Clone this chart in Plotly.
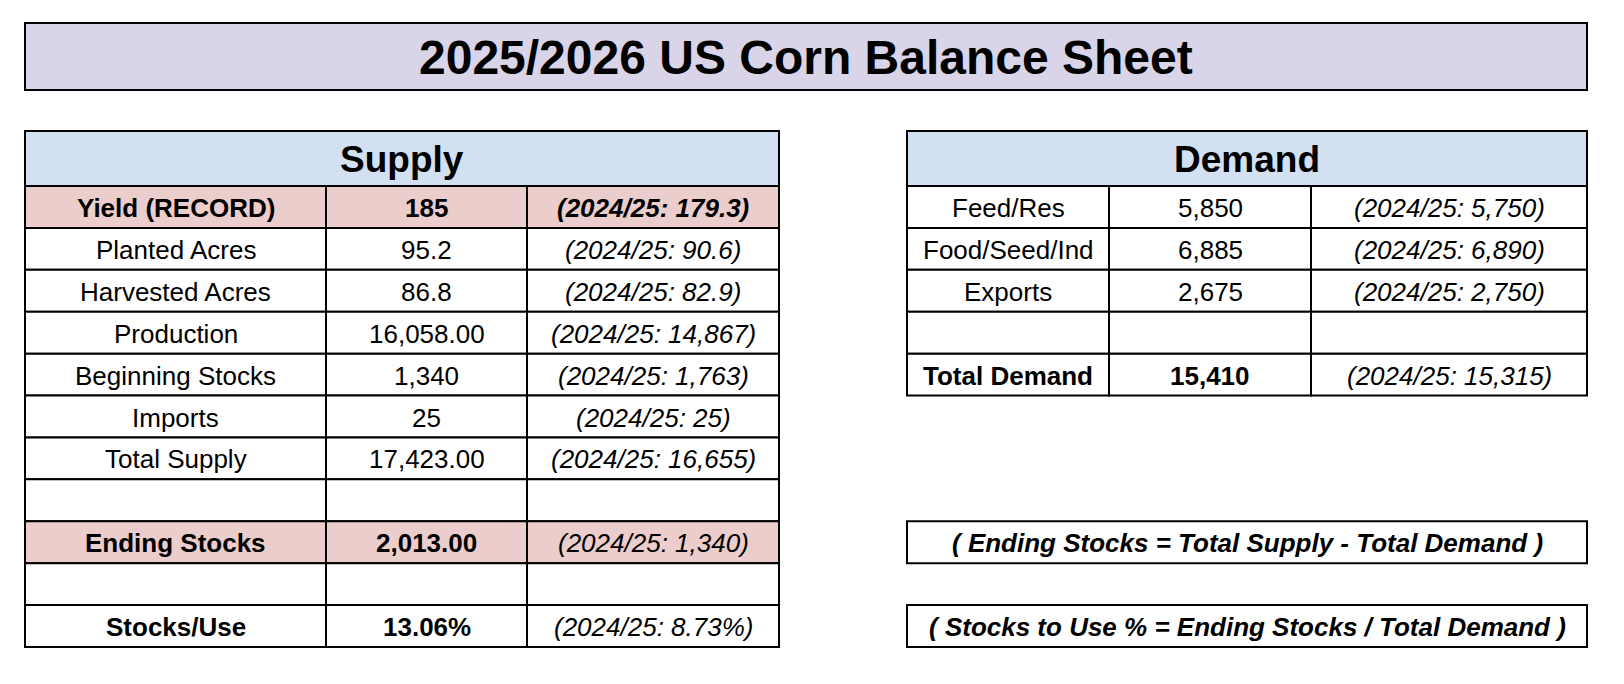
import plotly.graph_objects as go

# ---------------- data ----------------
title_text = "2025/2026 US Corn Balance Sheet"

supply_header = "Supply"
supply_labels = ["Yield (RECORD)", "Planted Acres", "Harvested Acres", "Production",
                 "Beginning Stocks", "Imports", "Total Supply", "", "Ending Stocks", "",
                 "Stocks/Use"]
supply_values = ["185", "95.2", "86.8", "16,058.00", "1,340", "25", "17,423.00", "",
                 "2,013.00", "", "13.06%"]
supply_prev = ["(2024/25: 179.3)", "(2024/25: 90.6)", "(2024/25: 82.9)",
               "(2024/25: 14,867)", "(2024/25: 1,763)", "(2024/25: 25)",
               "(2024/25: 16,655)", "", "(2024/25: 1,340)", "", "(2024/25: 8.73%)"]
supply_highlight = [True, False, False, False, False, False, False, False, True, False, False]
supply_bold = [True, False, False, False, False, False, False, False, True, False, True]
supply_prev_bold = [True] + [False] * 10

demand_header = "Demand"
demand_labels = ["Feed/Res", "Food/Seed/Ind", "Exports", "", "Total Demand"]
demand_values = ["5,850", "6,885", "2,675", "", "15,410"]
demand_prev = ["(2024/25: 5,750)", "(2024/25: 6,890)", "(2024/25: 2,750)", "",
               "(2024/25: 15,315)"]
demand_bold = [False, False, False, False, True]

formulas = ["( Ending Stocks = Total Supply - Total Demand )",
            "( Stocks to Use % = Ending Stocks / Total Demand )"]

# ---------------- layout constants ----------------
W, H = 1624, 684
PAGE_OFF = 8  # default page margin around the plot div
FONT = "Liberation Sans, Arial, sans-serif"
TITLE_FILL = "#d9d4e8"
HEAD_FILL = "#d2e0f1"
PINK_FILL = "#ebcdcc"
LINE_W = 2
BODY_SIZE = 26

title_box = (25, 1587, 23, 90)
table_top = 131
head_bottom = 186
row_h = (647 - head_bottom) / 11.0
supply_cols = [25, 326, 527, 779]
demand_cols = [907, 1109, 1311, 1587]

shapes = []
annotations = []


def rect(x0, x1, y0, y1, fill="white"):
    shapes.append(dict(type="rect", xref="x", yref="y", x0=x0, x1=x1, y0=y0, y1=y1,
                       fillcolor=fill, line=dict(color="black", width=LINE_W),
                       layer="below"))


def text(x, y, s, size, bold=False, italic=False):
    if not s:
        return
    annotations.append(dict(x=x, y=y, xref="x", yref="y", text=s, showarrow=False,
                            xanchor="center", yanchor="middle",
                            font=dict(family=FONT, size=size, color="black",
                                      weight="bold" if bold else "normal",
                                      style="italic" if italic else "normal")))


# title
rect(title_box[0], title_box[1], title_box[2], title_box[3], TITLE_FILL)
text((title_box[0] + title_box[1]) / 2, (title_box[2] + title_box[3]) / 2 + 1,
     title_text, 48, bold=True)


def draw_table(cols, header, labels, values, prev, bold, highlight=None, prev_bold=None):
    rect(cols[0], cols[-1], table_top, head_bottom, HEAD_FILL)
    text((cols[0] + cols[-1]) / 2, (table_top + head_bottom) / 2 + 1, header, 37, bold=True)
    for i in range(len(labels)):
        y0 = head_bottom + i * row_h
        y1 = y0 + row_h
        fill = PINK_FILL if (highlight and highlight[i]) else "white"
        cells = [labels[i], values[i], prev[i]]
        for j in range(3):
            rect(cols[j], cols[j + 1], y0, y1, fill)
            xc = (cols[j] + cols[j + 1]) / 2
            yc = (y0 + y1) / 2 + 1
            if j < 2:
                text(xc, yc, cells[j], BODY_SIZE, bold=bold[i])
            else:
                pb = prev_bold[i] if prev_bold else False
                text(xc, yc, cells[j], BODY_SIZE, bold=pb, italic=True)


draw_table(supply_cols, supply_header, supply_labels, supply_values, supply_prev,
           supply_bold, supply_highlight, supply_prev_bold)
draw_table(demand_cols, demand_header, demand_labels, demand_values, demand_prev,
           demand_bold)

# formula boxes aligned with Ending Stocks and Stocks/Use rows
for k, row_idx in enumerate([8, 10]):
    y0 = head_bottom + row_idx * row_h
    y1 = y0 + row_h
    rect(demand_cols[0], demand_cols[-1], y0, y1, "white")
    text((demand_cols[0] + demand_cols[-1]) / 2, (y0 + y1) / 2 + 1, formulas[k],
         BODY_SIZE, bold=True, italic=True)

fig = go.Figure()
fig.add_trace(go.Scatter(x=[PAGE_OFF, W], y=[PAGE_OFF, H], mode="markers",
                         marker=dict(opacity=0), hoverinfo="skip", showlegend=False))
fig.update_layout(
    width=W, height=H, margin=dict(l=0, r=0, t=0, b=0),
    paper_bgcolor="white", plot_bgcolor="white",
    xaxis=dict(range=[PAGE_OFF, W + PAGE_OFF], visible=False, fixedrange=True),
    yaxis=dict(range=[H + PAGE_OFF, PAGE_OFF], visible=False, fixedrange=True),
    shapes=shapes, annotations=annotations, showlegend=False,
)
fig.write_html("out.html")
